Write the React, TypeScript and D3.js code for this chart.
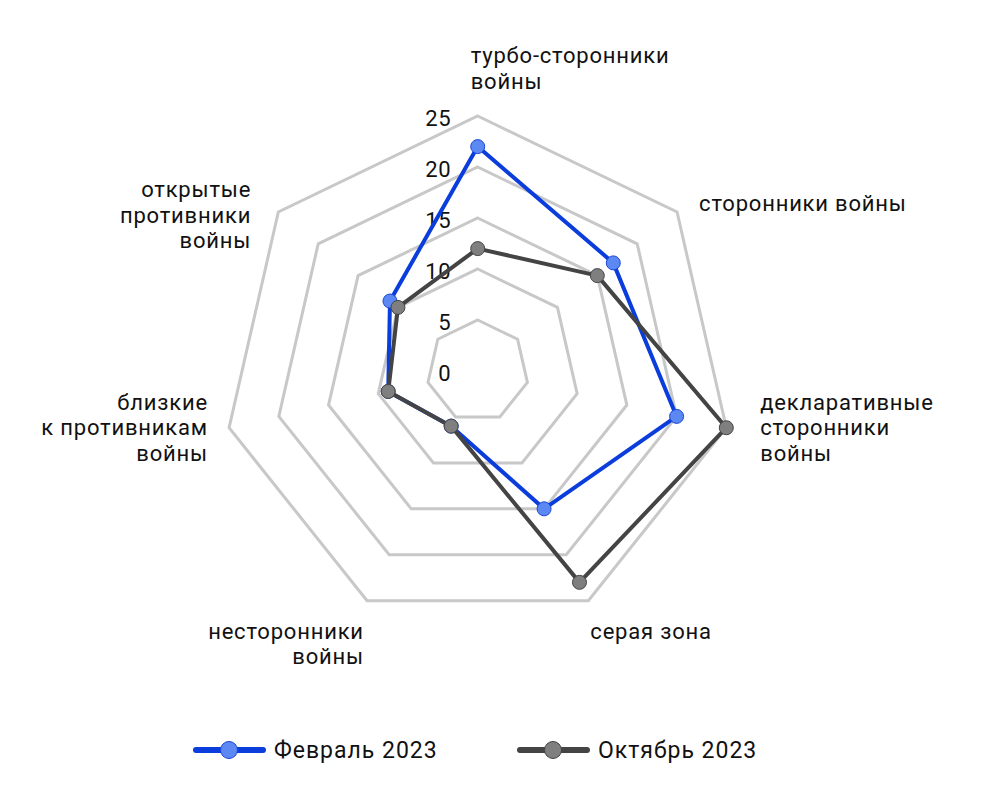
import React, { useEffect, useRef } from "react";
import * as d3 from "d3";

// axis labels, clockwise from the top (line breaks as in the source)
const categories = [
  ["турбо-сторонники", "войны"],
  ["сторонники войны"],
  ["декларативные", "сторонники", "войны"],
  ["серая зона"],
  ["несторонники", "войны"],
  ["близкие", "к противникам", "войны"],
  ["открытые", "противники", "войны"],
];

const febValues = [22, 17, 20, 15, 6, 9, 11];
const octValues = [12, 15, 25, 23, 6, 9, 10];

const ringTicks = [5, 10, 15, 20, 25];
const tickLabels = [0, 5, 10, 15, 20, 25];

const seriesNames = ["Февраль 2023", "Октябрь 2023"];

const App = () => {
  const svgRef = useRef<SVGSVGElement>(null);

  useEffect(() => {
    const width = 984;
    const height = 811;
    const cx = 477.7;
    const cy = 371;
    const outer = 255;
    const font = "Roboto, 'Noto Sans', sans-serif";
    const ls = 0.8; // letter spacing in the chart

    const svg = d3.select(svgRef.current);
    svg.selectAll("*").remove();
    svg.attr("width", width).attr("height", height);

    const r = d3.scaleLinear().domain([0, 25]).range([0, outer]);
    const step = (2 * Math.PI) / categories.length;
    const angle = (i: number) => i * step;

    const g = svg.append("g").attr("transform", `translate(${cx},${cy})`);

    // grid rings
    const ringLine = d3
      .lineRadial<number>()
      .angle((_, i) => angle(i))
      .radius((d) => r(d))
      .curve(d3.curveLinearClosed);

    g.selectAll(".ring")
      .data(ringTicks)
      .join("path")
      .attr("d", (t) => ringLine(categories.map(() => t)))
      .attr("fill", "none")
      .attr("stroke", "#c8c8c8")
      .attr("stroke-width", 3)
      .attr("stroke-linejoin", "miter");

    // tick labels along the top axis
    g.selectAll(".tick")
      .data(tickLabels)
      .join("text")
      .attr("x", -27 + ls)
      .attr("y", (t) => -r(t) + 10)
      .attr("text-anchor", "end")
      .style("font-family", font)
      .style("font-size", "22px")
      .style("letter-spacing", `${ls}px`)
      .attr("fill", "#111")
      .text((t) => t);

    // axis labels: [dx, dy of first baseline] from the outer vertex
    const labelNudge = [
      [-7, -53],
      [22, -1],
      [34, -18],
      [2, 38],
      [-4, 38],
      [-22, -18],
      [-28, -15],
    ];
    const lineH = 25.5;
    categories.forEach((lines, i) => {
      const ex = r(25) * Math.sin(angle(i));
      const ey = -r(25) * Math.cos(angle(i));
      const anchor = i === 0 || ex > 1 ? "start" : "end";
      const t = g
        .append("text")
        .attr("text-anchor", anchor)
        .style("font-family", font)
        .style("font-size", "22px")
        .style("letter-spacing", `${ls}px`)
        .attr("fill", "#111");
      lines.forEach((s, k) => {
        t.append("tspan")
          .attr("x", ex + labelNudge[i][0] + (anchor === "end" ? ls : 0))
          .attr("y", ey + labelNudge[i][1] + k * lineH)
          .text(s);
      });
    });

    const series = [
      { values: febValues, line: "#0a3ddc", fill: "#5b88f2", stroke: "#1a45d8" },
      { values: octValues, line: "#444444", fill: "#7f7f7f", stroke: "#444444" },
    ];

    const pathFor = d3
      .lineRadial<number>()
      .angle((_, i) => angle(i))
      .radius((d) => r(d))
      .curve(d3.curveLinearClosed);

    series.forEach((s) => {
      g.append("path")
        .attr("d", pathFor(s.values))
        .attr("fill", "none")
        .attr("stroke", s.line)
        .attr("stroke-width", 4)
        .attr("stroke-linejoin", "round");

      g.append("g")
        .selectAll("circle")
        .data(s.values)
        .join("circle")
        .attr("cx", (d, i) => r(d) * Math.sin(angle(i)))
        .attr("cy", (d, i) => -r(d) * Math.cos(angle(i)))
        .attr("r", 7)
        .attr("fill", s.fill)
        .attr("stroke", s.stroke)
        .attr("stroke-width", 1);
    });

    // legend
    const legendX = d3.scalePoint<string>().domain(seriesNames).range([196, 520]);
    const legend = svg
      .append("g")
      .selectAll("g")
      .data(series)
      .join("g")
      .attr("transform", (_, i) => `translate(${legendX(seriesNames[i])},750)`);
    legend
      .append("line")
      .attr("x1", 0)
      .attr("x2", 67)
      .attr("stroke", (d) => d.line)
      .attr("stroke-width", 6)
      .attr("stroke-linecap", "round");
    legend
      .append("circle")
      .attr("cx", 33)
      .attr("r", 8.5)
      .attr("fill", (d) => d.fill)
      .attr("stroke", (d) => d.stroke)
      .attr("stroke-width", 1);
    legend
      .append("text")
      .attr("x", 78)
      .attr("y", 8)
      .style("font-family", font)
      .style("font-size", "23px")
      .style("letter-spacing", "1px")
      .attr("fill", "#111")
      .text((_, i) => seriesNames[i]);
  }, []);

  return (
    <svg
      ref={svgRef}
      style={{ position: "absolute", left: 0, top: 0, background: "#fff" }}
    ></svg>
  );
};

export default App;
